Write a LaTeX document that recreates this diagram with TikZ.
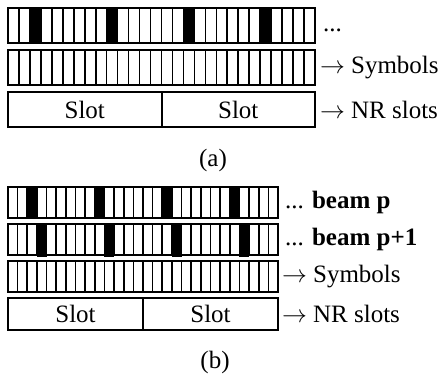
\documentclass[tikz,border=0pt]{standalone}
\usepackage{fontspec}
\setmainfont{Liberation Serif}
\usetikzlibrary{positioning}

\begin{document}
\begin{tikzpicture}
  [x=1pt, y=-1pt,
   every node/.style = {inner sep=0pt, outer sep=0pt, font=\fontsize{25}{30}\selectfont},
   cell/.style = {line width=1.6pt},
   rowbox/.style = {draw, line width=2pt, anchor=north west},
   slotbox/.style = {draw, line width=2pt, minimum height=35pt}]
  \useasboundingbox (0,0) rectangle (445,374);

  % (a)
  \foreach \i in {0,...,27} {
    \draw [cell] ({8+\i*10.964},8) rectangle ++(10.964,35);
    \draw [cell] ({8+\i*10.964},50) rectangle ++(10.964,35);
  }
  \foreach \i in {2,9,16,23}
    \fill ({8+\i*10.964},8) rectangle ++(10.964,35);
  \node [rowbox, minimum width=307pt, minimum height=35pt] (a1) at (8,8) {};
  \node [rowbox, minimum width=307pt, minimum height=35pt] (a2) at (8,50) {};
  \node [slotbox, minimum width=153.5pt, anchor=north west] (a3l) at (8,92) {Slot};
  \node [slotbox, minimum width=153.5pt, right=0pt of a3l] (a3r) {Slot};

  \node [right=8pt of a1] (dotsa) {\vphantom{Sy}...};
  \node [right=5pt of a2] (syma) {$\rightarrow$ Symbols};
  \node [right=5pt of a3r] (nra) {$\rightarrow$ NR slots};
  \node (capa) at (213,160) {(a)};

  % (b)
  \foreach \i in {0,...,27} {
    \draw [cell] ({8+\i*9.643},187) rectangle ++(9.643,31);
    \draw [cell] ({8+\i*9.643},224) rectangle ++(9.643,31);
    \draw [cell] ({8+\i*9.643},261) rectangle ++(9.643,31);
  }
  \foreach \i in {2,9,16,23}
    \fill ({8+\i*9.643},187) rectangle ++(9.643,31);
  \foreach \i in {3,10,17,24}
    \fill ({8+\i*9.643},224) rectangle ++(9.643,33);
  \node [rowbox, minimum width=270pt, minimum height=31pt] (b1) at (8,187) {};
  \node [rowbox, minimum width=270pt, minimum height=31pt] (b2) at (8,224) {};
  \node [rowbox, minimum width=270pt, minimum height=31pt] (b3) at (8,261) {};
  \node [slotbox, minimum width=135pt, minimum height=32pt, anchor=north west] (b4l) at (8,298) {Slot};
  \node [slotbox, minimum width=135pt, minimum height=32pt, right=0pt of b4l] (b4r) {Slot};

  \node [right=7pt of b1] (beamp) {... \textbf{beam p}};
  \node [right=7pt of b2] (beampp) {... \textbf{beam p+1}};
  \node [right=4pt of b3] (symb) {$\rightarrow$ Symbols};
  \node [right=4pt of b4r] (nrb) {$\rightarrow$ NR slots};
  \node (capb) at (215,362) {(b)};
\end{tikzpicture}
\end{document}
